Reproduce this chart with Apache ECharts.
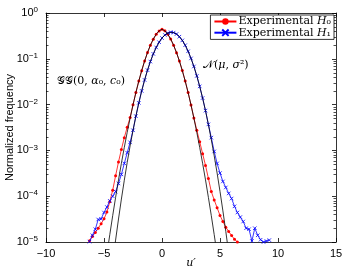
<!DOCTYPE html>
<html>
<head>
<meta charset="utf-8">
<script src="https://cdn.jsdelivr.net/npm/echarts@6/dist/echarts.min.js"></script>
<style>
html,body{margin:0;padding:0;background:#fff;}
#c{width:346px;height:271px;}
</style>
</head>
<body>
<div id="c"></div>
<script>
// ---- data ----
const uH0 = [-6.25,-6,-5.75,-5.5,-5.25,-5,-4.75,-4.5,-4.25,-4,-3.75,-3.5,-3.25,-3,-2.75,-2.5,-2.25,-2,-1.75,-1.5,-1.25,-1,-0.75,-0.5,-0.25,0,
  0.25,0.5,0.75,1,1.25,1.5,1.75,2,2.25,2.5,2.75,3,3.25,3.5,3.75,4,4.25,4.5,4.75,5,5.25,5.5,5.75,6,6.25,6.5];
const fH0 = [1.07e-5,1.32e-5,1.62e-5,2.0e-5,2.5e-5,3.2e-5,4.5e-5,7.6e-5,1.35e-4,2.8e-4,5.6e-4,1.05e-3,1.9e-3,3.2e-3,5.2e-3,9.9e-3,1.84e-2,3.27e-2,5.5e-2,8.9e-2,0.137,0.198,0.268,0.345,0.407,0.44,
  0.41,0.343,0.27,0.197,0.136,0.0895,0.0552,0.0328,0.0183,0.0098,0.0051,2.75e-3,1.55e-3,8.5e-4,4.7e-4,2.45e-4,1.26e-4,8.3e-5,5.6e-5,3.8e-5,2.8e-5,2.1e-5,1.7e-5,1.38e-5,1.15e-5,1.0e-5];

const uH1 = [-6.25,-6,-5.75,-5.5,-5.25,-5,-4.75,-4.5,-4.25,-4,-3.75,-3.5,-3.25,-3,-2.75,-2.5,-2.25,-2,-1.75,-1.5,-1.25,-1,-0.75,-0.5,-0.25,0,
  0.25,0.5,0.75,1,1.25,1.5,1.75,2,2.25,2.5,2.75,3,3.25,3.5,3.75,4,4.25,4.5,4.75,5,5.25,5.5,5.75,6,6.25,6.5,6.75,7,7.25,7.5,7.75,8,8.25,8.5,8.75,9,9.25];
const fH1 = [1.02e-5,1.4e-5,1.9e-5,3.1e-5,3.2e-5,4.4e-5,5.8e-5,7.9e-5,1.0e-4,1.26e-4,1.9e-4,3.0e-4,5.2e-4,8.9e-4,1.5e-3,2.75e-3,5.6e-3,1.09e-2,1.99e-2,3.45e-2,5.65e-2,8.7e-2,0.128,0.177,0.23,0.284,
  0.331,0.365,0.38,0.373,0.347,0.304,0.252,0.198,0.146,0.102,0.068,0.0423,0.025,0.0139,0.0074,3.7e-3,1.9e-3,9.5e-4,5.2e-4,3.2e-4,2.1e-4,1.55e-4,1.15e-4,8.9e-5,6.0e-5,4.4e-5,3.5e-5,2.8e-5,2.0e-5,1.9e-5,1.05e-5,2.0e-5,1.4e-5,1.12e-5,1.0e-5,1.05e-5,1.1e-5];

const uFitGG = [-4.75,-4.5,-4.25,-4,-3.75,-3.5,-3.25,-3,-2.75,-2.5,-2.25,-2,-1.75,-1.5,-1.25,-1,-0.75,-0.5,-0.25,0,
  0.25,0.5,0.75,1,1.25,1.5,1.75,2,2.25,2.5,2.75,3,3.25,3.5,3.75,4,4.25,4.5,4.75];
const fFitGG = [5.4e-6,1.45e-5,3.76e-5,9.4e-5,2.27e-4,5.24e-4,1.163e-3,2.48e-3,5.04e-3,9.84e-3,1.836e-2,3.27e-2,5.54e-2,8.93e-2,0.1366,0.198,0.269,0.344,0.408,0.44,
  0.408,0.344,0.269,0.198,0.1366,8.93e-2,5.54e-2,3.27e-2,1.836e-2,9.84e-3,5.04e-3,2.48e-3,1.163e-3,5.24e-4,2.27e-4,9.4e-5,3.76e-5,1.45e-5,5.4e-6];

const uFitN = [-4.25,-4,-3.75,-3.5,-3.25,-3,-2.75,-2.5,-2.25,-2,-1.75,-1.5,-1.25,-1,-0.75,-0.5,-0.25,0,
  0.25,0.5,0.75,1,1.25,1.5,1.75,2,2.25,2.5,2.75,3,3.25,3.5,3.75,4,4.25,4.5,4.75,5,5.25,5.5,5.75];
const fFitN = [3.6e-6,1.10e-5,3.18e-5,8.67e-5,2.23e-4,5.44e-4,1.253e-3,2.72e-3,5.59e-3,1.085e-2,1.991e-2,3.45e-2,5.65e-2,8.74e-2,0.1278,0.1766,0.2305,0.2843,
  0.3313,0.3648,0.3796,0.3732,0.3467,0.3043,0.2524,0.1978,0.1465,0.1024,0.0678,0.0423,0.02497,0.01393,0.00734,0.003655,0.00172,7.64e-4,3.21e-4,1.27e-4,4.78e-5,1.70e-5,5.7e-6];

const xTicks = [-10, -5, 0, 5, 10, 15];
const yDecades = [-5, -4, -3, -2, -1, 0];
const legendNames = ['H0', 'H1'];

// ---- chart ----
const pair = (u, f) => u.map((v, i) => [v, f[i]]);
const chart = echarts.init(document.getElementById('c'), null, {renderer: 'canvas'});
const axisLineStyle = {color: '#000', width: 0.8};
const fmtNum = v => (v < 0 ? '\u2212' + Math.abs(v) : String(v));

const option = {
  animation: false,
  backgroundColor: '#fff',
  grid: {left: 46, right: 10, top: 13, bottom: 29, containLabel: false, outerBoundsMode: 'none'},
  xAxis: [
    {type: 'value', min: xTicks[0], max: xTicks[xTicks.length - 1], interval: 5, position: 'bottom',
     axisLine: {show: true, onZero: false, lineStyle: axisLineStyle},
     axisTick: {show: true, inside: true, length: 4, lineStyle: axisLineStyle},
     axisLabel: {color: '#000', fontSize: 11, fontFamily: 'Liberation Sans', margin: 6, formatter: fmtNum},
     splitLine: {show: false},
     name: 'u\u2032', nameLocation: 'middle', nameGap: 16, nameMoveOverlap: false,
     nameTextStyle: {fontFamily: 'DejaVu Serif', fontStyle: 'italic', fontSize: 11, color: '#000', verticalAlign: 'top'}},
    {type: 'value', min: xTicks[0], max: xTicks[xTicks.length - 1], interval: 5, position: 'top',
     axisLine: {show: true, onZero: false, lineStyle: axisLineStyle},
     axisTick: {show: true, inside: true, length: 4, lineStyle: axisLineStyle},
     axisLabel: {show: false}, splitLine: {show: false}}
  ],
  yAxis: [
    {type: 'log', logBase: 10, min: Math.pow(10, yDecades[0]), max: Math.pow(10, yDecades[yDecades.length - 1]), position: 'left',
     axisLine: {show: true, onZero: false, lineStyle: axisLineStyle},
     axisTick: {show: true, inside: true, length: 4, lineStyle: axisLineStyle},
     axisLabel: {color: '#000', margin: 8,
       formatter: v => { const e = Math.round(Math.log10(v)); return '{b|10}{s|' + fmtNum(e) + '}'; },
       rich: {b: {fontSize: 11, fontFamily: 'Liberation Sans', color: '#000'},
              s: {fontSize: 8, fontFamily: 'Liberation Sans', color: '#000', verticalAlign: 'top', padding: [0, 0, 6, 0]}}},
     splitLine: {show: false},
     name: 'Normalized frequency', nameLocation: 'middle', nameGap: 36, nameMoveOverlap: false,
     nameTextStyle: {fontFamily: 'Liberation Sans', fontSize: 11, color: '#000', verticalAlign: 'middle'}},
    {type: 'log', logBase: 10, min: Math.pow(10, yDecades[0]), max: Math.pow(10, yDecades[yDecades.length - 1]), position: 'right',
     axisLine: {show: true, onZero: false, lineStyle: axisLineStyle},
     axisTick: {show: true, inside: true, length: 4, lineStyle: axisLineStyle},
     axisLabel: {show: false}, splitLine: {show: false}}
  ],
  legend: {
    data: legendNames, orient: 'vertical', right: 12, top: 15,
    backgroundColor: '#fff', borderColor: '#000', borderWidth: 0.8, borderRadius: 0,
    padding: [1, 3, 1, 3], itemGap: 0, itemWidth: 22, itemHeight: 8,
    formatter: n => 'Experimental {i|H}' + (n === 'H0' ? '\u2080' : '\u2081'),
    textStyle: {fontFamily: 'DejaVu Serif', fontSize: 11, color: '#000', padding: [0, 0, 0, -3],
      rich: {i: {fontFamily: 'DejaVu Serif', fontStyle: 'italic', fontSize: 11, color: '#000'}}}
  },
  series: [
    {name: 'H0', type: 'line', data: pair(uH0, fH0),
     symbol: 'circle', symbolSize: 3,
     itemStyle: {color: '#ff0000'},
     lineStyle: {color: '#ff0000', width: 0.8}, z: 2},
    {name: 'H1', type: 'line', data: pair(uH1, fH1),
     symbol: 'path://M0,0L10,10M10,0L0,10', symbolSize: 3.5,
     itemStyle: {color: 'none', borderColor: '#0000ff', borderWidth: 0.8},
     lineStyle: {color: '#0000ff', width: 0.8}, z: 3},
    {name: 'GG fit', type: 'line', data: pair(uFitGG, fFitGG), showSymbol: false, symbol: 'none',
     lineStyle: {color: '#000', width: 0.8}, z: 4},
    {name: 'N fit', type: 'line', data: pair(uFitN, fFitN), showSymbol: false, symbol: 'none',
     lineStyle: {color: '#000', width: 0.8}, z: 4}
  ]
};
chart.setOption(option);

// annotations and log minor ticks
const graphics = [
  {type: 'text', left: 57, top: 76, z: 10,
   style: {text: '{c|\uD835\uDCA2\uD835\uDCA2}(0, {i|\u03B1}\u2080, {i|c}\u2080)', fill: '#000',
     font: '11px "DejaVu Serif"',
     rich: {c: {fontFamily: 'DejaVu Serif', fontSize: 11}, i: {fontFamily: 'DejaVu Serif', fontStyle: 'italic', fontSize: 11}}}},
  {type: 'text', left: 203, top: 60, z: 10,
   style: {text: '{c|\uD835\uDCA9}({i|\u03BC}, {i|\u03C3}\u00B2)', fill: '#000',
     font: '11px "DejaVu Serif"',
     rich: {c: {fontFamily: 'DejaVu Serif', fontSize: 11}, i: {fontFamily: 'DejaVu Serif', fontStyle: 'italic', fontSize: 11}}}}
];
const xL = chart.convertToPixel({xAxisIndex: 0}, xTicks[0]);
const xR = chart.convertToPixel({xAxisIndex: 0}, xTicks[xTicks.length - 1]);
for (let k = yDecades[0]; k < yDecades[yDecades.length - 1]; k++) {
  for (let m = 2; m <= 9; m++) {
    const y = Math.round(chart.convertToPixel({yAxisIndex: 0}, m * Math.pow(10, k))) + 0.5;
    graphics.push({type: 'line', shape: {x1: xL, y1: y, x2: xL + 2.5, y2: y}, style: {stroke: '#000', lineWidth: 0.7}, silent: true});
    graphics.push({type: 'line', shape: {x1: xR - 2.5, y1: y, x2: xR, y2: y}, style: {stroke: '#000', lineWidth: 0.7}, silent: true});
  }
}
chart.setOption({graphic: graphics});
</script>
</body>
</html>
